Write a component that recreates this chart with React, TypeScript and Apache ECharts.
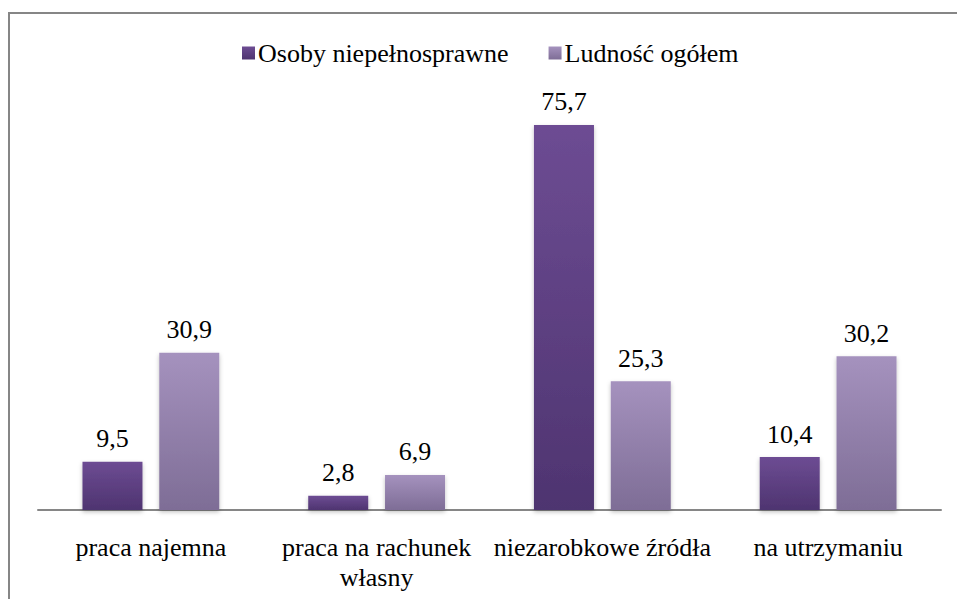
import React, { useEffect, useRef } from "react";
import * as echarts from "echarts";

const categories = ["praca najemna", "praca na rachunek\nwłasny", "niezarobkowe źródła", "na utrzymaniu"];
const seriesNames = ["Osoby niepełnosprawne", "Ludność ogółem"];
const disabledValues = [9.5, 2.8, 75.7, 10.4];
const totalValues = [30.9, 6.9, 25.3, 30.2];

const FONT = "Liberation Serif";

export default function App() {
  const ref = useRef<HTMLDivElement>(null);
  useEffect(() => {
    if (!ref.current) return;
    const chart = echarts.init(ref.current, null, { renderer: "svg" });
    const grad = (top: string, bottom: string) =>
      new echarts.graphic.LinearGradient(0, 0, 0, 1, [
        { offset: 0, color: top },
        { offset: 1, color: bottom },
      ]);
    const label = {
      show: true,
      position: "top" as const,
      distance: 10,
      color: "#000",
      fontFamily: FONT,
      fontSize: 26,
      formatter: (p: any) => String(p.value).replace(".", ","),
    };
    chart.setOption({
      animation: false,
      backgroundColor: "#fff",
      textStyle: { fontFamily: FONT },
      graphic: [
        {
          type: "rect",
          shape: { x: 9, y: 13, width: 1000, height: 1000 },
          style: { fill: "none", stroke: "#868686", lineWidth: 2 },
          silent: true,
        },
      ],
      legend: {
        left: 237,
        top: 35,
        itemWidth: 13,
        itemHeight: 13,
        itemGap: 40,
        icon: "rect",
        textStyle: { fontFamily: FONT, fontSize: 26, color: "#000", padding: [0, 0, 0, -2] },
        data: seriesNames,
      },
      grid: { left: 38, right: 16, top: 103, bottom: 89, containLabel: false },
      xAxis: {
        type: "category",
        data: categories,
        axisLine: { lineStyle: { color: "#868686", width: 2 } },
        axisTick: { show: false },
        axisLabel: {
          color: "#000",
          fontFamily: FONT,
          fontSize: 26,
          margin: 22,
          lineHeight: 30,
          interval: 0,
        },
      },
      yAxis: {
        type: "value",
        min: 0,
        max: 80,
        show: false,
        splitLine: { show: false },
      },
      series: [
        {
          name: seriesNames[0],
          type: "bar",
          data: disabledValues,
          barWidth: 60,
          barGap: "28%",
          itemStyle: {
            color: grad("#6d4c93", "#4e3470"),
            shadowColor: "rgba(0,0,0,0.25)",
            shadowBlur: 4,
            shadowOffsetY: 2,
          },
          label,
        },
        {
          name: seriesNames[1],
          type: "bar",
          data: totalValues,
          barWidth: 60,
          itemStyle: {
            color: grad("#a592be", "#7e6d96"),
            shadowColor: "rgba(0,0,0,0.25)",
            shadowBlur: 4,
            shadowOffsetY: 2,
          },
          label,
        },
      ],
    });
    return () => chart.dispose();
  }, []);
  return <div ref={ref} style={{ width: 957, height: 599, position: "absolute", left: 0, top: 0 }} />;
}
